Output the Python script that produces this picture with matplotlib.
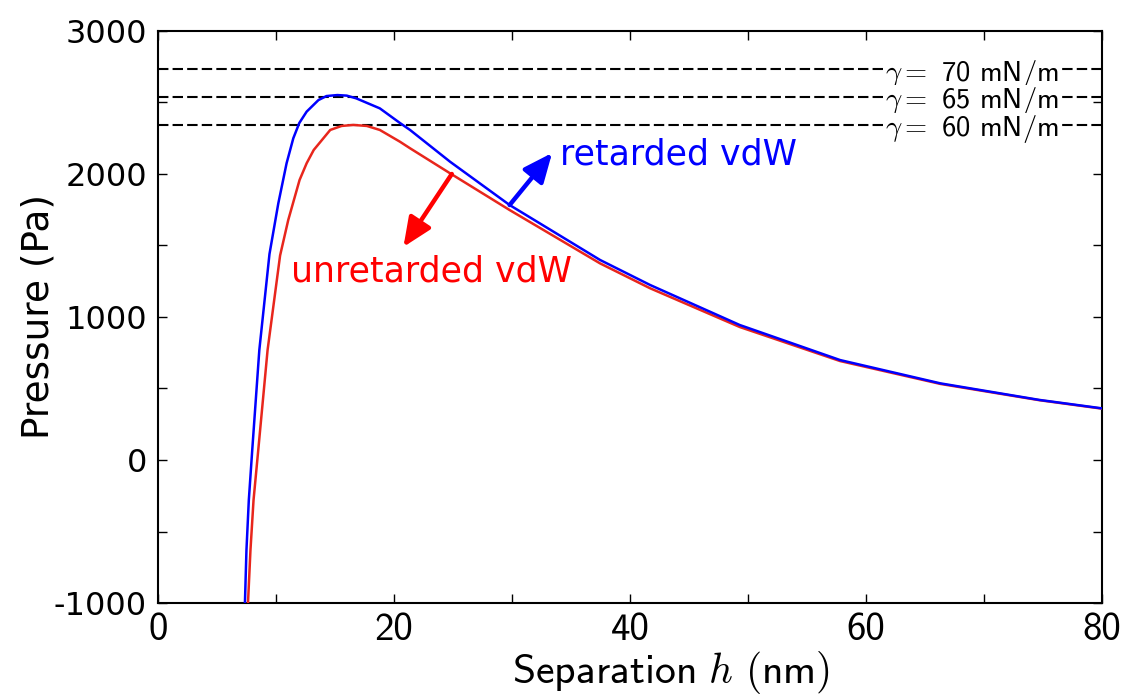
import os
import matplotlib
matplotlib.use('Agg')
import matplotlib.pyplot as plt
from matplotlib.ticker import MultipleLocator
from matplotlib.font_manager import FontProperties

plt.rcParams['font.family'] = ['DejaVu Sans']
plt.rcParams['mathtext.fontset'] = 'cm'
plt.rcParams['axes.unicode_minus'] = False

cmss = os.path.join(matplotlib.get_data_path(), 'fonts', 'ttf', 'cmss10.ttf')

# disjoining pressure vs film thickness
h_ret = [7.37, 7.5, 7.7, 7.99, 8.59, 9.45, 10.2, 10.9, 11.47, 11.98, 12.6,
         13.6, 14.28, 15.2, 16.0, 16.8, 18.8, 20.5, 21.36, 24.75, 29.8,
         37.46, 41.7, 49.3, 57.8, 66.3, 74.7, 80.0]
p_ret = [-1000, -629, -280, 70, 769, 1440, 1795, 2075, 2250, 2357, 2436,
         2517, 2545, 2552, 2548, 2529, 2459, 2357, 2308, 2086, 1783,
         1399, 1224, 944, 699, 536, 420, 361]

h_unret = [7.63, 7.84, 8.1, 8.5, 9.29, 10.35, 11.04, 12.0, 12.6, 13.2,
           14.6, 15.56, 16.55, 17.7, 18.8, 20.5, 21.36, 24.75, 29.8,
           37.46, 41.7, 49.3, 57.8, 66.3, 74.7, 80.0]
p_unret = [-1000, -629, -280, 70, 769, 1430, 1678, 1958, 2075, 2168,
           2308, 2336, 2343, 2336, 2308, 2226, 2180, 2005, 1748,
           1375, 1201, 930, 692, 532, 418, 359]

# capillary pressure for a few surface tensions
gammas = [70, 65, 60]
p_gamma = [2734, 2539, 2344]

fig = plt.figure(figsize=(11.25, 6.98), dpi=100)
ax = fig.add_axes([0.1404, 0.1361, 0.8392, 0.8195])

for g, p in zip(gammas, p_gamma):
    ax.axhline(p, color='k', lw=1.5, dashes=(5, 2), zorder=1)
    ax.text(68.95, p, r'$\gamma=$ %d mN/m' % g,
            fontproperties=FontProperties(fname=cmss, size=20.5),
            ha='center', va='center_baseline', zorder=2,
            bbox=dict(facecolor='white', edgecolor='none', pad=0.05))

ax.plot(h_unret, p_unret, color='#e8261c', lw=1.8, zorder=3)
ax.plot(h_ret, p_ret, color='b', lw=1.8, zorder=4)

arrow = '-|>,head_length=0.8,head_width=0.35'
ax.annotate('', xy=(33.4, 2147), xytext=(29.8, 1783),
            arrowprops=dict(arrowstyle=arrow, color='b', lw=3.2, mutation_scale=22,
                            shrinkA=0, shrinkB=0))
ax.annotate('', xy=(20.8, 1490), xytext=(24.9, 2000),
            arrowprops=dict(arrowstyle=arrow, color='r', lw=3.2, mutation_scale=22,
                            shrinkA=0, shrinkB=0))
ax.text(34.1, 2133, 'retarded vdW', color='b', fontsize=25, va='center')
ax.text(11.3, 1315, 'unretarded vdW', color='r', fontsize=25, va='center')

ax.set_xlim(0, 80)
ax.set_ylim(-1000, 3000)
ax.xaxis.set_major_locator(MultipleLocator(20))
ax.xaxis.set_minor_locator(MultipleLocator(10))
ax.yaxis.set_major_locator(MultipleLocator(1000))
ax.yaxis.set_minor_locator(MultipleLocator(500))
ax.tick_params(which='both', direction='in', top=True, right=True, length=6.5, width=1)
ax.tick_params(axis='y', labelsize=23, pad=8)
ax.tick_params(axis='x', pad=7)
for lab in ax.get_xticklabels():
    lab.set_fontproperties(FontProperties(fname=cmss, size=28))
for s in ax.spines.values():
    s.set_linewidth(1.5)

ax.set_xlabel(r'$\mathsf{Separation}\ h\ \mathsf{(nm)}$', fontsize=30)
ax.xaxis.set_label_coords(0.5434, -0.08)
ax.set_ylabel('Pressure (Pa)', fontsize=27)
ax.yaxis.set_label_coords(-0.107, 0.5)

fig.savefig('out.png', dpi=100)
